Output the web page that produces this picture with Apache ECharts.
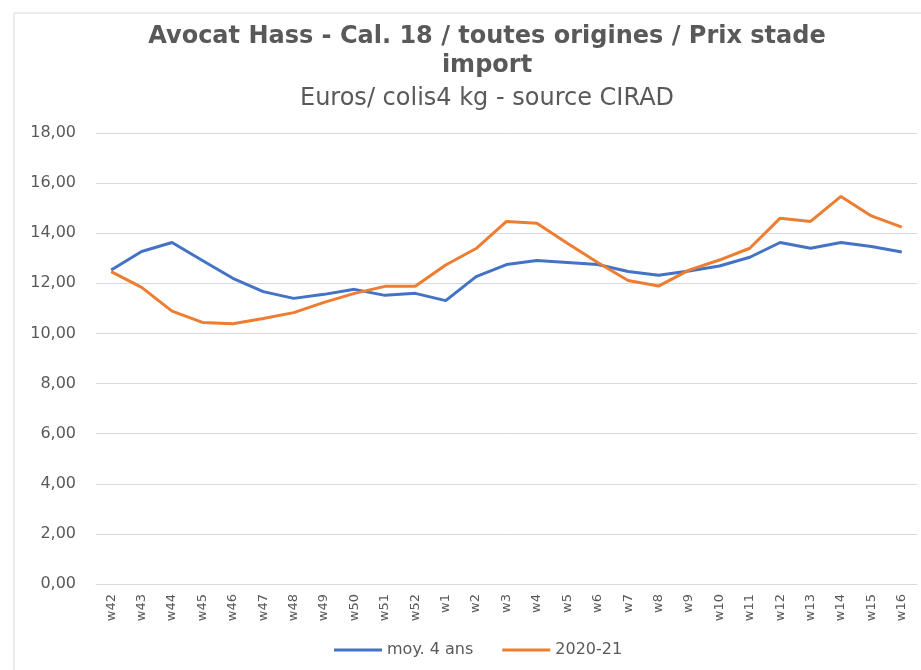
<!DOCTYPE html>
<html><head><meta charset="utf-8">
<script src="https://cdn.jsdelivr.net/npm/echarts@6/dist/echarts.min.js"></script>
<style>html,body{margin:0;padding:0;background:#fff}#c{width:921px;height:670px}</style>
</head><body><div id="c"></div>
<script>
var categories = ['w42','w43','w44','w45','w46','w47','w48','w49','w50','w51','w52','w1','w2','w3','w4','w5','w6','w7','w8','w9','w10','w11','w12','w13','w14','w15','w16'];
var moy4ans = [12.53,13.27,13.63,12.91,12.2,11.67,11.4,11.56,11.76,11.52,11.6,11.31,12.27,12.75,12.91,12.83,12.75,12.47,12.32,12.49,12.69,13.04,13.63,13.4,13.63,13.47,13.25];
var s2020 = [12.47,11.84,10.89,10.44,10.39,10.6,10.83,11.24,11.6,11.88,11.88,12.73,13.39,14.47,14.4,13.6,12.83,12.11,11.89,12.53,12.93,13.4,14.6,14.47,15.47,14.69,14.24];
var yTicks = {min:0, max:18, interval:2};
var seriesNames = ['moy. 4 ans','2020-21'];

var chart = echarts.init(document.getElementById('c'), null, {renderer:'canvas'});
var font = 'DejaVu Sans, sans-serif';
chart.setOption({
  animation:false,
  backgroundColor:'#fff',
  graphic:[{type:'rect',shape:{x:14,y:13,width:930,height:700},style:{fill:'none',stroke:'#D9D9D9',lineWidth:1},silent:true}],
  title:[
    {text:'Avocat Hass - Cal. 18 / toutes origines / Prix stade\nimport', left:482, textAlign:'center', top:17,
     textStyle:{fontFamily:font, fontSize:24, fontWeight:'bold', color:'#595959', lineHeight:29}},
    {text:'Euros/ colis4 kg - source CIRAD', left:482, textAlign:'center', top:82,
     textStyle:{fontFamily:font, fontSize:24, fontWeight:'normal', color:'#595959'}}
  ],
  legend:{top:642, left:334, padding:0, itemWidth:48, itemHeight:3, itemGap:29, icon:'rect',
    textStyle:{fontFamily:font, fontSize:16, color:'#595959'}, data:seriesNames},
  grid:{left:96, right:4, top:133, bottom:86},
  xAxis:{type:'category', data:categories, boundaryGap:true,
    axisLine:{lineStyle:{color:'#D9D9D9'}}, axisTick:{show:false},
    axisLabel:{rotate:90, fontFamily:font, fontSize:13, color:'#595959', margin:10, interval:0}},
  yAxis:{type:'value', min:yTicks.min, max:yTicks.max, interval:yTicks.interval,
    axisLine:{show:false}, axisTick:{show:false},
    splitLine:{lineStyle:{color:'#D9D9D9', width:1}},
    axisLabel:{fontFamily:font, fontSize:16, color:'#595959', margin:20,
      formatter:function(v){return v.toFixed(2).replace('.',',');}}},
  series:[
    {name:seriesNames[0], type:'line', data:moy4ans, symbol:'none', lineStyle:{color:'#4472C4', width:3}, itemStyle:{color:'#4472C4'}},
    {name:seriesNames[1], type:'line', data:s2020, symbol:'none', lineStyle:{color:'#ED7D31', width:3}, itemStyle:{color:'#ED7D31'}}
  ]
});
</script></body></html>
